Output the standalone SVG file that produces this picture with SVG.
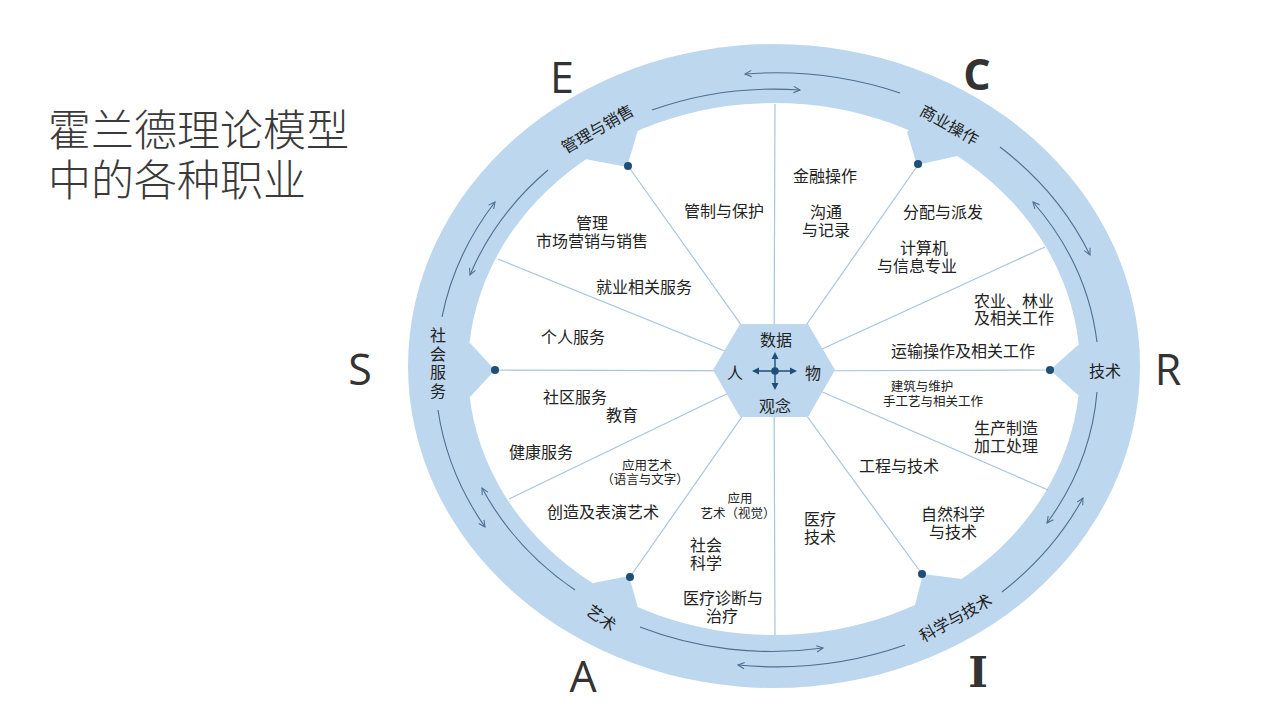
<svg xmlns="http://www.w3.org/2000/svg" width="1280" height="720" viewBox="0 0 1280 720">
<defs>
<style>
.t{font-family:"Noto Sans CJK SC","Noto Sans",sans-serif;font-size:16px;fill:#222;text-anchor:middle;dominant-baseline:central}
.s{font-size:12.5px}
.r{font-size:16px}
.big{font-family:"Open Sans","Liberation Sans",sans-serif;font-size:43px;fill:#333;text-anchor:middle}
.title{font-family:"Noto Sans CJK SC",sans-serif;font-size:43px;fill:#3a3a3a;font-weight:300}
.ring{fill:#bdd7ee}
.spoke{stroke:#a9c4de;stroke-width:1.2;fill:none}
.trk{stroke:#4d6e8e;stroke-width:1.1;fill:none;marker-end:url(#ah)}
.dot{fill:#1f4e79}
</style>
<marker id="ah" viewBox="0 0 10 10" refX="9" refY="5" markerWidth="8" markerHeight="8" orient="auto" markerUnits="userSpaceOnUse">
<path d="M1,1 L9,5 L1,9" fill="none" stroke="#4d6e8e" stroke-width="1.3"/>
</marker>
</defs>
<rect width="1280" height="720" fill="#ffffff"/>

<g id="title">
<text class="title" x="48" y="146">霍兰德理论模型<tspan x="48" y="196">中的各种职业</tspan></text>
</g>

<g id="ring">
<ellipse class="ring" cx="774" cy="366" rx="366" ry="322"/>
<ellipse cx="774" cy="369" rx="306" ry="266" fill="#ffffff"/>
<polygon class="ring" points="585,159 627,167 638,130 612,112"/>
<polygon class="ring" points="907,132 917,165 957,156 935,110"/>
<polygon class="ring" points="470,343 495,370 470,397 445,370"/>
<polygon class="ring" points="1078,345 1050,370 1078,395 1105,370"/>
<polygon class="ring" points="593,583 629,576 638,608 612,625"/>
<polygon class="ring" points="915,605 923,574 962,579 940,625"/>
</g>

<g id="connectors">
<line class="spoke" x1="774" y1="371" x2="775" y2="104"/>
<line class="spoke" x1="774" y1="371" x2="918" y2="165"/>
<line class="spoke" x1="774" y1="371" x2="1045" y2="247"/>
<line class="spoke" x1="774" y1="371" x2="1050" y2="370"/>
<line class="spoke" x1="774" y1="371" x2="1048" y2="490"/>
<line class="spoke" x1="774" y1="371" x2="922" y2="574"/>
<line class="spoke" x1="774" y1="371" x2="775" y2="635"/>
<line class="spoke" x1="774" y1="371" x2="630" y2="577"/>
<line class="spoke" x1="774" y1="371" x2="509" y2="499"/>
<line class="spoke" x1="774" y1="371" x2="495" y2="370"/>
<line class="spoke" x1="774" y1="371" x2="498" y2="259"/>
<line class="spoke" x1="774" y1="371" x2="628" y2="166"/>
<path class="trk" d="M900,93 A346,300 0 0 0 745,74"/>
<path class="trk" d="M652,110 A324,282 0 0 1 800,90"/>
<path class="trk" d="M1000,147 A346,300 0 0 1 1090,255"/>
<path class="trk" d="M1097,342 A324,282 0 0 0 1033,202"/>
<path class="trk" d="M1097,392 A324,282 0 0 1 1047,523"/>
<path class="trk" d="M1002,592 A346,300 0 0 0 1083,498"/>
<path class="trk" d="M640,627 A324,282 0 0 0 823,648"/>
<path class="trk" d="M905,645 A346,300 0 0 1 738,665"/>
<path class="trk" d="M438,410 A346,300 0 0 0 485,527"/>
<path class="trk" d="M575,590 A324,282 0 0 1 482,488"/>
<path class="trk" d="M442,317 A346,300 0 0 1 495,202"/>
<path class="trk" d="M548,170 A324,282 0 0 0 470,275"/>
</g>

<g id="dots">
<circle class="dot" cx="628" cy="166" r="4"/>
<circle class="dot" cx="918" cy="164" r="4"/>
<circle class="dot" cx="1050" cy="370" r="4"/>
<circle class="dot" cx="922" cy="574" r="4"/>
<circle class="dot" cx="630" cy="577" r="4"/>
<circle class="dot" cx="495" cy="370" r="4"/>
</g>

<g id="hub">
<polygon class="ring" points="740,324 808,324 835,370 808,417 740,417 713,370"/>
<g stroke="#1f4e79" stroke-width="1.4">
<line x1="775" y1="358" x2="775" y2="386"/>
<line x1="757" y1="371" x2="792" y2="371"/>
</g>
<g fill="#1f4e79">
<circle cx="775" cy="371" r="3.8"/>
<polygon points="775,352 771.5,359 778.5,359"/>
<polygon points="775,390 771.5,383 778.5,383"/>
<polygon points="752,371 759,367.5 759,374.5"/>
<polygon points="797,371 790,367.5 790,374.5"/>
</g>
<text class="t r" x="776" y="339">数据</text>
<text class="t r" x="735" y="372">人</text>
<text class="t r" x="813" y="372">物</text>
<text class="t r" x="775" y="405">观念</text>
</g>

<g id="node-E">
<text class="big" x="562" y="93">E</text>
<text class="t r" transform="translate(597,128) rotate(-30)">管理与销售</text>
</g>
<g id="node-C">
<text class="big" x="977" y="90" font-weight="700">C</text>
<text class="t r" transform="translate(950,124) rotate(29)">商业操作</text>
</g>
<g id="node-S">
<text class="big" x="360" y="385">S</text>
<text class="t r" x="438" y="327" writing-mode="vertical-rl" letter-spacing="2.5" dominant-baseline="auto" style="text-anchor:start">社会服务</text>
</g>
<g id="node-R">
<text class="big" x="1168" y="385">R</text>
<text class="t r" x="1105" y="370">技术</text>
</g>
<g id="node-A">
<text class="big" x="583" y="692">A</text>
<text class="t r" transform="translate(602,617) rotate(36)">艺术</text>
</g>
<g id="node-I">
<text x="978" y="687" font-family="DejaVu Serif,Liberation Serif,serif" font-weight="700" font-size="42" fill="#333" text-anchor="middle">I</text>
<text class="t r" transform="translate(955,617) rotate(-29)">科学与技术</text>
</g>

<g id="occupations">
<text class="t" x="724" y="210">管制与保护</text>
<text class="t" x="592" y="222">管理<tspan x="592" dy="18">市场营销与销售</tspan></text>
<text class="t" x="825" y="175">金融操作</text>
<text class="t" x="826" y="211">沟通<tspan x="826" dy="18">与记录</tspan></text>
<text class="t" x="943" y="211">分配与派发</text>
<text class="t" x="924" y="247">计算机<tspan x="917" dy="18">与信息专业</tspan></text>
<text class="t" x="644" y="286">就业相关服务</text>
<text class="t" x="1014" y="300">农业、林业<tspan x="1014" dy="17">及相关工作</tspan></text>
<text class="t" x="573" y="336">个人服务</text>
<text class="t" x="963" y="350">运输操作及相关工作</text>
<text class="t s" x="922" y="385">建筑与维护<tspan x="933" dy="15">手工艺与相关工作</tspan></text>
<text class="t" x="575" y="396">社区服务<tspan x="622" dy="18">教育</tspan></text>
<text class="t" x="1006" y="427">生产制造<tspan x="1006" dy="18">加工处理</tspan></text>
<text class="t" x="541" y="451">健康服务</text>
<text class="t" x="899" y="465">工程与技术</text>
<text class="t s" x="647" y="464">应用艺术<tspan x="645" dy="14">（语言与文字）</tspan></text>
<text class="t" x="603" y="511">创造及表演艺术</text>
<text class="t s" x="740" y="497">应用<tspan x="738" dy="15">艺术（视觉）</tspan></text>
<text class="t" x="953" y="513">自然科学<tspan x="953" dy="18">与技术</tspan></text>
<text class="t" x="820" y="518">医疗<tspan x="820" dy="18">技术</tspan></text>
<text class="t" x="706" y="544">社会<tspan x="706" dy="18">科学</tspan></text>
<text class="t" x="723" y="597">医疗诊断与<tspan x="722" dy="18">治疗</tspan></text>
</g>
</svg>
